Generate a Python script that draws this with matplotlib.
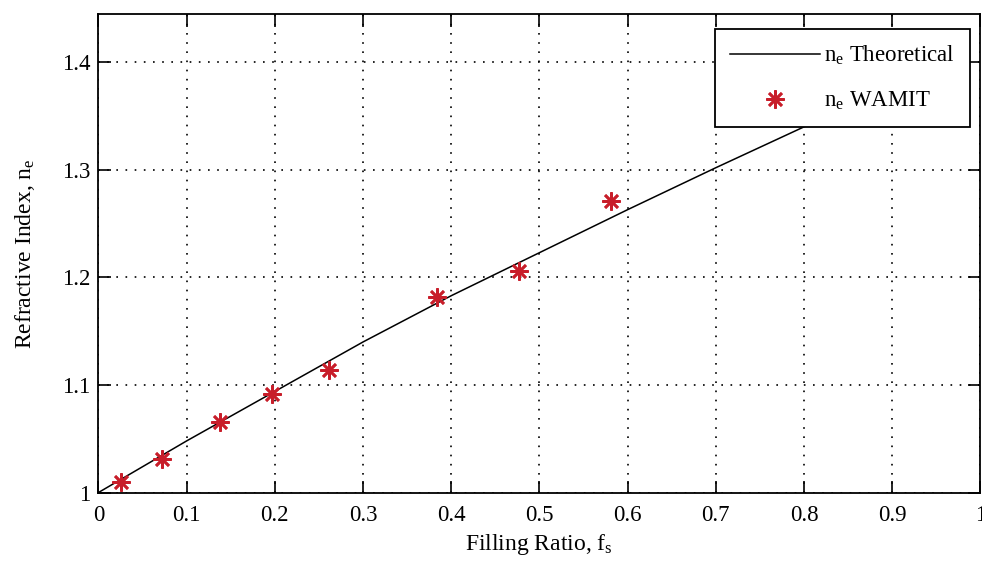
import numpy as np
import matplotlib
matplotlib.use('Agg')
import matplotlib.pyplot as plt
from matplotlib.ticker import FuncFormatter

plt.rcParams['font.family'] = ['Liberation Serif', 'DejaVu Serif']
plt.rcParams['mathtext.fontset'] = 'custom'
plt.rcParams['mathtext.rm'] = 'Liberation Serif'
plt.rcParams['mathtext.it'] = 'Liberation Serif'

# Theoretical curve (end is hidden behind legend)
theory_fs = [0.0, 0.1, 0.2, 0.3, 0.4, 0.5, 0.6, 0.7, 0.8, 0.9]
theory_ne = [1.000, 1.048, 1.094, 1.140, 1.183, 1.223, 1.263, 1.302, 1.340, 1.376]

# WAMIT results
wamit_fs = [0.026, 0.072, 0.138, 0.197, 0.261, 0.384, 0.477, 0.581]
wamit_ne = [1.010, 1.031, 1.066, 1.092, 1.114, 1.182, 1.206, 1.271]

x_ticks = [0, 0.1, 0.2, 0.3, 0.4, 0.5, 0.6, 0.7, 0.8, 0.9, 1]
y_ticks = [1, 1.1, 1.2, 1.3, 1.4]

fig = plt.figure(figsize=(9.82, 5.65), dpi=100)
ax = fig.add_axes([0.1003, 0.1283, 0.898, 0.847])

ax.plot(theory_fs, theory_ne, color='black', linewidth=1.1, label=r'n$_\mathrm{e}$ Theoretical')
ax.plot(wamit_fs, wamit_ne, linestyle='none', marker=(8, 2, 0), markersize=13,
        markeredgewidth=1.9, color='#c81e2a', label=r'n$_\mathrm{e}$ WAMIT')

ax.set_xlim(0, 1)
ax.set_ylim(1, 1.445)
ax.set_xticks(x_ticks)
ax.set_yticks(y_ticks)
ax.xaxis.set_major_formatter(FuncFormatter(lambda v, p: '%g' % v))
ax.yaxis.set_major_formatter(FuncFormatter(lambda v, p: '%g' % v))

ax.grid(True, color='black', linestyle=(0, (1, 4.5)), linewidth=1.2)
ax.tick_params(direction='in', length=9, width=1.2, top=True, right=True,
               labelsize=16.5)
ax.tick_params(axis='x', pad=9)
ax.tick_params(axis='y', pad=6)
for s in ax.spines.values():
    s.set_linewidth(1.3)

ax.set_xlabel(r'Filling Ratio, f$_\mathrm{s}$', fontsize=17, labelpad=4)
ax.set_ylabel(r'Refractive Index, n$_\mathrm{e}$', fontsize=17, labelpad=18)

leg = ax.legend(loc='upper right', bbox_to_anchor=(0.988, 0.9687), borderaxespad=0,
                fontsize=16.5, fancybox=False, framealpha=1, edgecolor='black',
                handlelength=3.9, borderpad=0.65, labelspacing=1.0, handletextpad=0.2)
leg.get_frame().set_linewidth(1.3)

fig.savefig('out.png', dpi=100)
plt.close()
